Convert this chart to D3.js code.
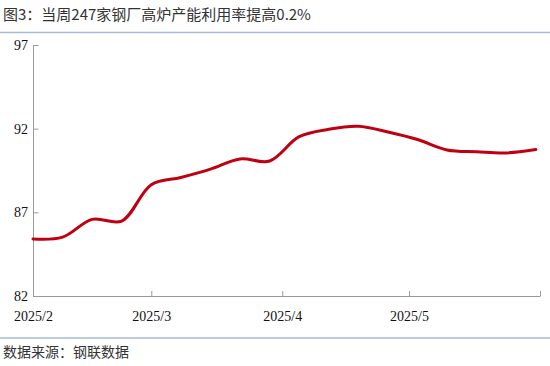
<!DOCTYPE html>
<html>
<head>
<meta charset="utf-8">
<script src="https://cdn.jsdelivr.net/npm/d3@7"></script>
<style>
  body { margin: 0; background: #fff; }
  svg { display: block; }
</style>
</head>
<body>
<div id="chart"></div>
<script>
// weekly utilisation of blast furnaces, 247 steel mills (%)
const weeks = [
  "2025-02-01", "2025-02-08", "2025-02-15", "2025-02-22", "2025-03-01", "2025-03-08",
  "2025-03-15", "2025-03-22", "2025-03-29", "2025-04-05", "2025-04-12", "2025-04-19",
  "2025-04-26", "2025-05-03", "2025-05-10", "2025-05-17", "2025-05-24", "2025-05-31"
];
const utilisation = [
  85.41, 85.52, 86.58, 86.48, 88.65, 89.08,
  89.58, 90.19, 90.07, 91.52, 91.96, 92.14,
  91.80, 91.35, 90.73, 90.62, 90.55, 90.75
];
const yTicks = [82, 87, 92, 97];
const xTicks = ["2025-02-01", "2025-03-01", "2025-04-01", "2025-05-01", "2025-06-01"];
const xTickLabels = ["2025/2", "2025/3", "2025/4", "2025/5", ""];

const width = 550, height = 366;
const marginLeft = 33, marginRight = 10, marginTop = 45, marginBottom = 70;

const parse = d3.timeParse("%Y-%m-%d");
const data = weeks.map((w, i) => ({date: parse(w), value: utilisation[i]}));

const svg = d3.select("#chart").append("svg")
    .attr("width", width)
    .attr("height", height);

// title + rules
svg.append("text")
    .attr("x", 3)
    .attr("y", 20)
    .attr("fill", "#333")
    .attr("style", "font: 15px 'Noto Sans CJK SC', sans-serif;")
    .text("图3：当周247家钢厂高炉产能利用率提高0.2%");

svg.append("line")
    .attr("x1", 0).attr("x2", width)
    .attr("y1", 32.5).attr("y2", 32.5)
    .attr("stroke", "#a9bbd9")
    .attr("stroke-width", 1.5);

svg.append("line")
    .attr("x1", 0).attr("x2", width)
    .attr("y1", 338).attr("y2", 338)
    .attr("stroke", "#a9bbd9")
    .attr("stroke-width", 1.5);

svg.append("text")
    .attr("x", 3)
    .attr("y", 357)
    .attr("fill", "#333")
    .attr("style", "font: 14px 'Noto Sans CJK SC', sans-serif;")
    .text("数据来源：钢联数据");

const x = d3.scaleTime()
    .domain([parse(xTicks[0]), parse(xTicks[xTicks.length - 1])])
    .range([marginLeft, width - marginRight]);

const y = d3.scaleLinear()
    .domain([82, 97])
    .range([height - marginBottom, marginTop]);

// y axis, ticks pointing inward
const yAxis = svg.append("g")
    .attr("transform", `translate(${marginLeft},0)`)
    .call(d3.axisRight(y).tickValues(yTicks).tickSize(5).tickFormat(d3.format("d")));
yAxis.select(".domain").attr("d", `M0.5,${y(97)}V${y(82)}`).attr("stroke", "#999");
yAxis.selectAll(".tick line").attr("stroke", "#999").attr("x1", 0.5).attr("x2", 5.5);
yAxis.selectAll(".tick text")
    .attr("x", -5)
    .attr("text-anchor", "end")
    .attr("fill", "#111")
    .attr("style", "font: 14px 'Liberation Serif', serif;");

// x axis, ticks pointing up
const xAxis = svg.append("g")
    .attr("transform", `translate(0,${height - marginBottom})`)
    .call(d3.axisTop(x).tickValues(xTicks.map(parse)).tickSize(5)
        .tickFormat((d, i) => xTickLabels[i]));
xAxis.select(".domain").attr("d", `M${marginLeft},0.5H${width - marginRight}`).attr("stroke", "#999");
xAxis.selectAll(".tick line").attr("stroke", "#999").attr("y1", 0.5).attr("y2", -5);
xAxis.selectAll(".tick text")
    .attr("y", 25)
    .attr("dy", 0)
    .attr("fill", "#111")
    .attr("style", "font: 14px 'Liberation Serif', serif;");

const line = d3.line()
    .x(d => x(d.date))
    .y(d => y(d.value))
    .curve(d3.curveCatmullRom.alpha(0.5));

svg.append("path")
    .datum(data)
    .attr("fill", "none")
    .attr("stroke", "#c00010")
    .attr("stroke-width", 3)
    .attr("stroke-linecap", "round")
    .attr("d", line);
</script>
</body>
</html>
